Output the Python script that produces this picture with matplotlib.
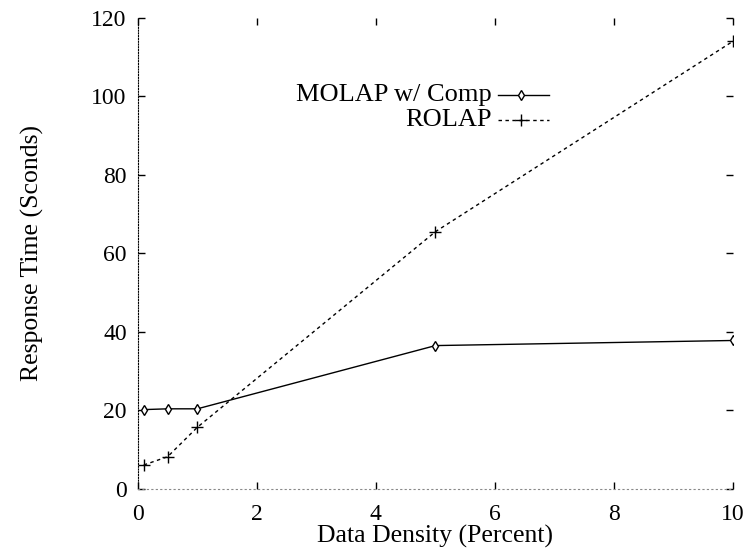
import numpy as np
import matplotlib
matplotlib.use("Agg")
import matplotlib.pyplot as plt

# data
density = [0.1, 0.5, 1, 5, 10]
molap_comp = [20.2, 20.4, 20.4, 36.5, 37.8]
rolap = [6.1, 8.2, 15.7, 65.5, 114.0]
labels = ["MOLAP w/ Comp", "ROLAP"]
xticks = [0, 2, 4, 6, 8, 10]
yticks = [0, 20, 40, 60, 80, 100, 120]

plt.rcParams["font.family"] = ["Liberation Serif", "DejaVu Serif"]

fig = plt.figure(figsize=(7.45, 5.5), dpi=100, facecolor="w")
ax = fig.add_axes([0.185, 0.111, 0.799, 0.857])

ax.plot(density, molap_comp, color="black", lw=1.0, marker="d", ms=5,
        mfc="white", mec="black", mew=1.0)
ax.plot(density, rolap, color="black", lw=1.0, ls=(0, (2.5, 2.5)), marker="+",
        ms=8, mew=1.0)

ax.set_xlim(0, 10)
ax.set_ylim(0, 120)
ax.set_xticks(xticks)
ax.set_yticks(yticks)
ax.tick_params(direction="in", length=5, width=1, top=True, right=True,
               labelsize=17, pad=8)
ax.tick_params(axis="x", pad=11)

# frame: dotted left/bottom, nothing on top/right (only ticks)
ax.spines["left"].set_linestyle((0, (1, 1.5)))
ax.spines["left"].set_linewidth(0.8)
ax.spines["bottom"].set_linestyle((0, (1, 3)))
ax.spines["bottom"].set_linewidth(0.8)
ax.spines["bottom"].set_color("#888888")
ax.spines["top"].set_visible(False)
ax.spines["right"].set_visible(False)

ax.set_xlabel("Data Density (Percent)", fontsize=18.5, labelpad=0)
ax.set_ylabel("Response Time (Sconds)", fontsize=18.5, labelpad=34)

# hand-made key, text right aligned like gnuplot
key_x = 0.595
key_y = [0.836, 0.783]
styles = [dict(ls="-", marker="d", ms=5, mfc="white"),
          dict(ls=(0, (2.5, 2.5)), marker="+", ms=8, mfc="black")]
for lab, ky, st in zip(labels, key_y, styles):
    ax.text(key_x, ky, lab, transform=ax.transAxes, ha="right", va="center",
            fontsize=19)
    ax.plot([0.605, 0.69], [ky, ky], transform=ax.transAxes, color="black",
            lw=1.0, ls=st["ls"])
    ax.plot([0.644], [ky], transform=ax.transAxes, color="black", lw=0,
            marker=st["marker"], ms=st["ms"], mfc=st["mfc"],
            mec="black", mew=1.0)

fig.savefig("out.png", dpi=100)
